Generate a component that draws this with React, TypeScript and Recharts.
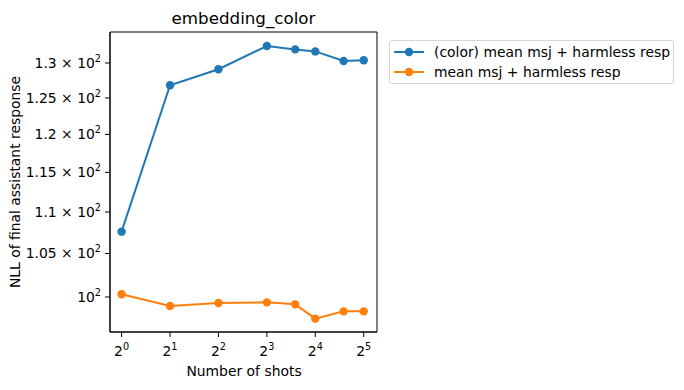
import React from "react";
import { LineChart, Line, XAxis, YAxis, ReferenceArea } from "recharts";

const shots = [1, 2, 4, 8, 12, 16, 24, 32];
const colorMsj = [107.6, 126.8, 129.1, 132.5, 132.0, 131.7, 130.3, 130.4];
const meanMsj = [100.3, 99.0, 99.33, 99.4, 99.18, 97.6, 98.4, 98.4];

const xTicks = [1, 2, 4, 8, 16, 32];
const yTicks = [100, 105, 110, 115, 120, 125, 130];
const yTickMantissa = ["", "1.05", "1.1", "1.15", "1.2", "1.25", "1.3"];

const xDomain = [0.847, 38.7];
const yDomain = [96.15, 134.6];

const BLUE = "#1f77b4";
const ORANGE = "#ff7f0e";
const FONT = "DejaVu Sans, sans-serif";

const data = shots.map((s, i) => ({ shots: s, color: colorMsj[i], mean: meanMsj[i] }));

// eslint-disable-next-line @typescript-eslint/no-explicit-any
const XTick = ({ x, y, payload }: any) => {
  const exp = Math.round(Math.log2(payload.value));
  return (
    <text x={x} y={y + 17} textAnchor="middle" fontFamily={FONT} fontSize={13.9} fill="#000">
      <tspan>2</tspan>
      <tspan dy={-6} fontSize={9.7}>{exp}</tspan>
    </text>
  );
};

// eslint-disable-next-line @typescript-eslint/no-explicit-any
const YTick = ({ x, y, payload }: any) => {
  const idx = yTicks.indexOf(payload.value);
  const m = yTickMantissa[idx];
  return (
    <text x={x - 2} y={y + 5} textAnchor="end" fontFamily={FONT} fontSize={13.9} fill="#000">
      <tspan>{m ? `${m} × 10` : "10"}</tspan>
      <tspan dy={-6} fontSize={9.7}>2</tspan>
    </text>
  );
};

const YLabel = () => (
  <text
    x={20}
    y={182}
    transform="rotate(-90 20 182)"
    textAnchor="middle"
    fontFamily={FONT}
    fontSize={13.9}
    fill="#000"
  >
    NLL of final assistant response
  </text>
);

const XLabel = () => (
  <text x={244} y={376} textAnchor="middle" fontFamily={FONT} fontSize={13.9} fill="#000">
    Number of shots
  </text>
);

const legendItems = [
  { name: "(color) mean msj + harmless resp", color: BLUE },
  { name: "mean msj + harmless resp", color: ORANGE },
];

export default function App() {
  return (
    <div style={{ position: "relative", width: 684, height: 390, background: "#fff" }}>
      <style>{`body{margin:0}`}</style>
      <div
        style={{
          position: "absolute",
          left: 110,
          top: 8,
          width: 267,
          textAlign: "center",
          fontFamily: FONT,
          fontSize: 16.7,
          lineHeight: "20px",
          pointerEvents: "none",
        }}
      >
        embedding_color
      </div>
      <LineChart
        width={684}
        height={390}
        data={data}
        margin={{ top: 32, right: 307, bottom: 18, left: 10 }}
      >
        <XAxis
          dataKey="shots"
          type="number"
          scale="log"
          domain={xDomain}
          ticks={xTicks}
          allowDataOverflow
          height={40}
          tick={<XTick />}
          tickSize={5}
          axisLine={{ stroke: "#000" }}
          tickLine={{ stroke: "#000" }}
          label={<XLabel />}
        />
        <YAxis
          type="number"
          scale="log"
          domain={yDomain}
          ticks={yTicks}
          allowDataOverflow
          width={100}
          tick={<YTick />}
          tickSize={5}
          axisLine={{ stroke: "#000" }}
          tickLine={{ stroke: "#000" }}
          label={<YLabel />}
        />
        <ReferenceArea
          x1={xDomain[0]}
          x2={xDomain[1]}
          y1={yDomain[0]}
          y2={yDomain[1]}
          fill="none"
          fillOpacity={0}
          stroke="#000"
          strokeWidth={1}
          ifOverflow="visible"
        />
        <Line
          type="linear"
          dataKey="color"
          stroke={BLUE}
          strokeWidth={2}
          dot={{ r: 4.2, fill: BLUE, stroke: BLUE, strokeWidth: 0 }}
          isAnimationActive={false}
        />
        <Line
          type="linear"
          dataKey="mean"
          stroke={ORANGE}
          strokeWidth={2}
          dot={{ r: 4.2, fill: ORANGE, stroke: ORANGE, strokeWidth: 0 }}
          isAnimationActive={false}
        />
      </LineChart>
      <div
        style={{
          position: "absolute",
          left: 389,
          top: 40,
          width: 285,
          height: 44,
          boxSizing: "border-box",
          border: "1px solid #d5d5d5",
          borderRadius: 3,
          background: "rgba(255,255,255,0.8)",
          fontFamily: FONT,
          fontSize: 13.9,
          paddingTop: 1,
        }}
      >
        {legendItems.map((it) => (
          <div key={it.name} style={{ display: "flex", alignItems: "center", height: 20 }}>
            <svg width={44} height={20} style={{ flex: "none" }}>
              <line x1={4} x2={34} y1={10} y2={10} stroke={it.color} strokeWidth={2} />
              <circle cx={19} cy={10} r={4.2} fill={it.color} />
            </svg>
            <span style={{ whiteSpace: "nowrap" }}>{it.name}</span>
          </div>
        ))}
      </div>
    </div>
  );
}
